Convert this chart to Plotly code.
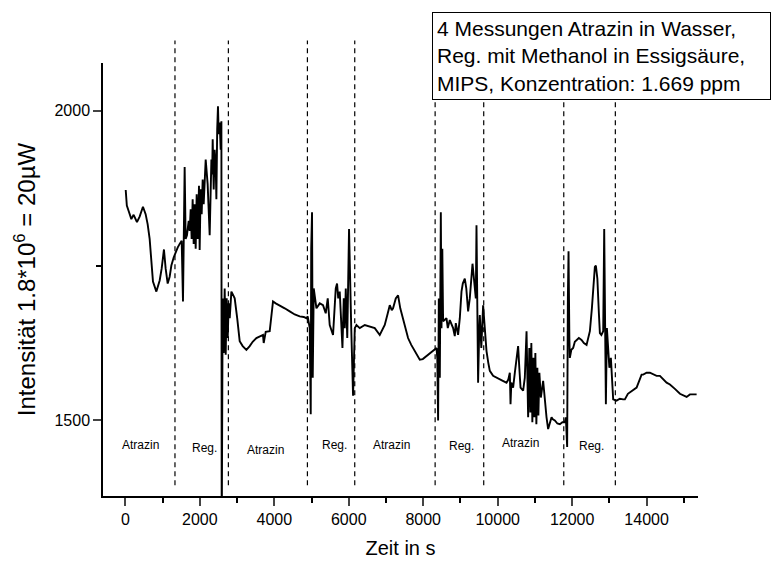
import plotly.graph_objects as go

# ---- data ----
time_s = [10, 40, 89, 161, 223, 312, 384, 473, 545, 599, 653, 742, 833, 922, 975, 1037, 1083, 1137, 1190, 1236,
          1298, 1352, 1405, 1459, 1513, 1548, 1566, 1593, 1620, 1655, 1701, 1728, 1755, 1781, 1808, 1835, 1862, 1889,
          1916, 1943, 1978, 1996, 2023, 2050, 2077, 2104, 2158, 2185, 2211, 2265, 2292, 2311, 2332, 2346, 2373, 2399,
          2426, 2445, 2467, 2488, 2507, 2534, 2561, 2580, 2588, 2601, 2614, 2641, 2668, 2695, 2722, 2749, 2776, 2803,
          2848, 2883, 2937, 3004, 3071, 3152, 3251, 3340, 3420, 3520, 3609, 3697, 3716, 3770, 3877, 3918, 3966, 4039,
          4146, 4280, 4415, 4549, 4683, 4791, 4863, 4898, 4952, 4979, 4992, 5014, 5033, 5060, 5132, 5221, 5309, 5382,
          5436, 5489, 5578, 5624, 5651, 5686, 5718, 5758, 5785, 5831, 5866, 5893, 5920, 5960, 6008, 6040, 6067, 6116,
          6135, 6162, 6207, 6296, 6430, 6565, 6699, 6833, 6967, 7048, 7102, 7155, 7190, 7263, 7325, 7384, 7459, 7518,
          7593, 7679, 7773, 7908, 7988, 8088, 8177, 8265, 8357, 8378, 8400, 8419, 8446, 8473, 8491, 8513, 8534, 8625,
          8660, 8714, 8803, 8848, 8875, 8937, 8983, 9028, 9063, 9117, 9157, 9206, 9251, 9324, 9359, 9386, 9413, 9431,
          9453, 9474, 9506, 9520, 9560, 9609, 9654, 9700, 9748, 9789, 9877, 9963, 10057, 10138, 10237, 10286, 10326,
          10345, 10367, 10415, 10461, 10506, 10549, 10581, 10614, 10684, 10729, 10775, 10796, 10818, 10850, 10877,
          10904, 10931, 10958, 10985, 11012, 11039, 11066, 11093, 11120, 11159, 11221, 11267, 11312, 11355, 11401,
          11447, 11482, 11535, 11603, 11670, 11737, 11804, 11831, 11866, 11885, 11903, 11925, 11938, 11978, 12027,
          12072, 12118, 12180, 12252, 12315, 12387, 12436, 12476, 12530, 12565, 12610, 12637, 12677, 12718, 12745,
          12785, 12834, 12861, 12880, 12906, 12933, 12968, 13000, 13040, 13102, 13193, 13281, 13371, 13416, 13497,
          13639, 13731, 13865, 13908, 13999, 14088, 14268, 14357, 14537, 14626, 14760, 14895, 15074, 15163, 15343]

intensity = [1872, 1847, 1838, 1825, 1832, 1820, 1829, 1845, 1833, 1817, 1793, 1724, 1708, 1726, 1745, 1776, 1745,
             1721, 1732, 1750, 1763, 1772, 1779, 1785, 1790, 1692, 1801, 1909, 1793, 1799, 1822, 1806, 1841, 1793,
             1857, 1785, 1849, 1777, 1865, 1793, 1879, 1775, 1873, 1833, 1889, 1849, 1921, 1905, 1881, 1799, 1889,
             1921, 1897, 1954, 1873, 1937, 1913, 1857, 1970, 2007, 1962, 1981, 1937, 1983, 1300, 1617, 1697, 1609,
             1713, 1606, 1697, 1633, 1689, 1665, 1708, 1704, 1697, 1665, 1628, 1620, 1614, 1620, 1627, 1633, 1636,
             1638, 1625, 1643, 1644, 1665, 1692, 1689, 1686, 1681, 1676, 1671, 1668, 1667, 1665, 1668, 1649, 1510,
             1777, 1836, 1569, 1713, 1681, 1689, 1686, 1673, 1697, 1654, 1638, 1681, 1713, 1721, 1697, 1708, 1665,
             1617, 1697, 1649, 1713, 1633, 1809, 1697, 1649, 1540, 1585, 1649, 1654, 1649, 1654, 1652, 1649, 1638,
             1654, 1673, 1686, 1678, 1681, 1697, 1702, 1681, 1665, 1649, 1633, 1622, 1612, 1598, 1599, 1604, 1607,
             1612, 1617, 1601, 1500, 1697, 1569, 1836, 1649, 1777, 1660, 1665, 1649, 1662, 1649, 1636, 1657, 1638,
             1665, 1708, 1721, 1729, 1713, 1676, 1697, 1753, 1729, 1718, 1697, 1815, 1697, 1561, 1649, 1670, 1617,
             1686, 1649, 1612, 1593, 1580, 1572, 1569, 1566, 1564, 1561, 1566, 1577, 1526, 1561, 1553, 1577, 1601,
             1620, 1585, 1553, 1548, 1569, 1644, 1569, 1505, 1617, 1513, 1625, 1497, 1601, 1505, 1609, 1494, 1585,
             1508, 1577, 1537, 1564, 1529, 1505, 1486, 1497, 1505, 1502, 1500, 1495, 1494, 1497, 1497, 1505, 1457,
             1697, 1773, 1633, 1601, 1614, 1617, 1627, 1630, 1633, 1630, 1625, 1622, 1633, 1644, 1681, 1708, 1748,
             1750, 1729, 1673, 1641, 1638, 1644, 1809, 1665, 1526, 1649, 1622, 1585, 1601, 1534, 1532, 1535, 1534,
             1534, 1543, 1550, 1553, 1574, 1574, 1577, 1577, 1572, 1572, 1561, 1558, 1551, 1543, 1538, 1542, 1542]

phase_boundaries = [1333, 2767, 4890, 6161, 8320, 9625, 11775, 13160]
phase_labels = ["Atrazin", "Reg.", "Atrazin", "Reg.", "Atrazin", "Reg.", "Atrazin", "Reg."]
phase_label_x = [411, 2131, 3771, 5624, 7154, 9035, 10620, 12528]
phase_label_y = [1460, 1455, 1453, 1461, 1461, 1458, 1464, 1458]

info_text = ("4 Messungen Atrazin in Wasser,<br>"
             "Reg. mit Methanol in Essigsäure,<br>"
             "MIPS, Konzentration: 1.669 ppm")

FONT = "Liberation Sans, Arial, sans-serif"

fig = go.Figure()
fig.add_trace(go.Scatter(x=time_s, y=intensity, mode="lines",
                         line=dict(color="black", width=1.9), showlegend=False))

for xb in phase_boundaries:
    fig.add_shape(type="line", xref="x", yref="paper", x0=xb, x1=xb, y0=0.025, y1=1.052,
                  line=dict(color="black", width=1.2, dash="5px,4px"), layer="below")

for lbl, lx, ly in zip(phase_labels, phase_label_x, phase_label_y):
    fig.add_annotation(x=lx, y=ly, xref="x", yref="y", text=lbl, showarrow=False,
                       font=dict(family=FONT, size=12, color="black"))

fig.add_annotation(xref="paper", yref="paper", x=0.553, y=1.1185, xanchor="left", yanchor="top",
                   text=info_text, showarrow=False, align="left", width=329,
                   font=dict(family=FONT, size=21, color="black"),
                   bgcolor="white", bordercolor="black", borderwidth=1, borderpad=4)

fig.update_layout(
    width=773, height=568,
    margin=dict(l=103, r=75, t=63, b=69),
    paper_bgcolor="white", plot_bgcolor="white",
    font=dict(family=FONT, color="black"),
    xaxis=dict(range=[-600, 15380], tick0=0, dtick=2000, tickformat="d", ticks="outside", ticklen=8,
               tickwidth=1.5, showline=True, linecolor="black", linewidth=1.5, showgrid=False, zeroline=False,
               tickfont=dict(size=16),
               minor=dict(tick0=0, dtick=1000, ticks="outside", ticklen=5, tickwidth=1.5, tickcolor="black",
                          showgrid=False),
               title=dict(text="Zeit in s", font=dict(size=20), standoff=14)),
    yaxis=dict(range=[1378, 2077], tick0=0, dtick=500, tickformat="d", ticks="outside", ticklen=8,
               tickwidth=1.5, showline=True, linecolor="black", linewidth=1.5, showgrid=False, zeroline=False,
               tickfont=dict(size=16),
               minor=dict(tick0=0, dtick=250, ticks="outside", ticklen=5, tickwidth=1.5, tickcolor="black",
                          showgrid=False),
               title=dict(text="Intensität 1.8*10<sup>6</sup> = 20µW", font=dict(size=24), standoff=12)),
)

fig.write_html("out.html")
